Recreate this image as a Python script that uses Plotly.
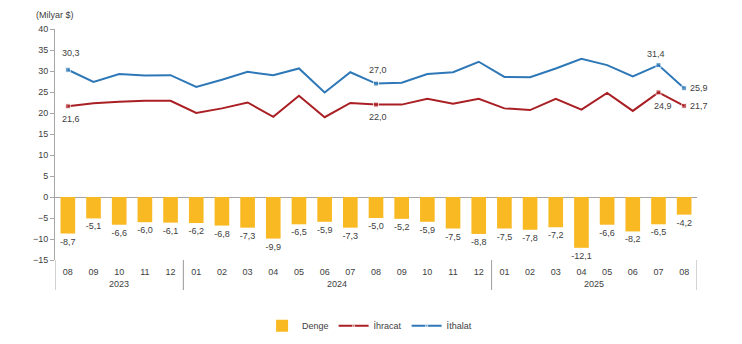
import plotly.graph_objects as go

years = ["2023"] * 5 + ["2024"] * 12 + ["2025"] * 8
months = ["08", "09", "10", "11", "12",
          "01", "02", "03", "04", "05", "06", "07", "08", "09", "10", "11", "12",
          "01", "02", "03", "04", "05", "06", "07", "08"]

denge = [-8.7, -5.1, -6.6, -6.0, -6.1,
         -6.2, -6.8, -7.3, -9.9, -6.5, -5.9, -7.3, -5.0, -5.2, -5.9, -7.5, -8.8,
         -7.5, -7.8, -7.2, -12.1, -6.6, -8.2, -6.5, -4.2]
ihracat = [21.6, 22.3, 22.7, 22.9, 22.9,
           20.0, 21.1, 22.5, 19.1, 24.1, 19.0, 22.4, 22.0, 22.0, 23.4, 22.2, 23.4,
           21.1, 20.7, 23.4, 20.8, 24.8, 20.5, 24.9, 21.7]
ithalat = [30.3, 27.4, 29.3, 28.9, 29.0,
           26.2, 27.9, 29.8, 29.0, 30.6, 24.9, 29.7, 27.0, 27.2, 29.3, 29.7, 32.2,
           28.6, 28.5, 30.6, 32.9, 31.4, 28.7, 31.4, 25.9]

# which points carry a marker + label, and label offsets (px)
labelled = [0, 12, 23, 24]
exp_shift = {0: (3, -13), 12: (2, -12), 23: (5, -14), 24: (15, 0)}
imp_shift = {0: (3, 17), 12: (2, 14), 23: (-2, 11), 24: (15, 0)}

def fmt(v):
    return f"{v:.1f}".replace(".", ",")

n = len(months)
xs = list(range(n))

BAR = "#F9B922"
RED = "#A91F24"
BLUE = "#2E78B7"
TXT = "#404040"
GRID = "#A6A6A6"
FONT = "Liberation Sans, Arial, sans-serif"

fig = go.Figure()
fig.add_trace(go.Bar(
    x=xs, y=denge, name="Denge", marker=dict(color=BAR, line_width=0),
    text=[fmt(v) for v in denge], textposition="outside", constraintext="none",
    textangle=0, textfont=dict(size=9, color=TXT), cliponaxis=False,
))
for name, vals, col in (("İhracat", ihracat, RED), ("İthalat", ithalat, BLUE)):
    fig.add_trace(go.Scatter(
        x=xs, y=vals, name=name, mode="lines+markers",
        line=dict(color=col, width=2),
        marker=dict(symbol="square", color=col,
                    size=[5 if i in labelled else 0 for i in range(n)]),
        cliponaxis=False,
    ))

# year groups: labels and dividers
groups = []
for i, yv in enumerate(years):
    if not groups or groups[-1][0] != yv:
        groups.append([yv, i, i])
    else:
        groups[-1][2] = i

annotations = [dict(text="(Milyar $)", xref="paper", yref="paper", x=0.0, y=1.03,
                    xanchor="center", yanchor="bottom", showarrow=False,
                    font=dict(size=9, color=TXT))]
for vals, shifts in ((ihracat, exp_shift), (ithalat, imp_shift)):
    for i in labelled:
        dx, dy = shifts[i]
        annotations.append(dict(text=fmt(vals[i]), x=xs[i], y=vals[i], xref="x", yref="y",
                                xshift=dx, yshift=dy, showarrow=False,
                                xanchor="center", yanchor="middle",
                                font=dict(size=9, color=TXT)))
shapes = []
for yv, a, b in groups:
    annotations.append(dict(text=yv, xref="x", yref="paper", x=(a + b) / 2, y=-0.105,
                            xanchor="center", yanchor="middle", showarrow=False,
                            font=dict(size=9, color=TXT)))
    for edge in (a - 0.5, b + 0.5):
        shapes.append(dict(type="line", xref="x", yref="paper", x0=edge, x1=edge,
                           y0=0, y1=-0.13, line=dict(color=GRID, width=1)))

fig.update_layout(
    width=742, height=344,
    margin=dict(l=55, r=45, t=29, b=84, autoexpand=False),
    paper_bgcolor="white", plot_bgcolor="white",
    font=dict(family=FONT, size=9, color=TXT),
    bargap=0.43,
    showlegend=True,
    legend=dict(orientation="h", x=0.49, xanchor="center", y=-0.285, yanchor="middle",
                font=dict(size=9, color=TXT), itemwidth=30, tracegroupgap=0),
    annotations=annotations,
    shapes=shapes,
)
fig.update_yaxes(range=[-15, 40], dtick=5, showgrid=False, zeroline=True,
                 zerolinecolor=GRID, zerolinewidth=1,
                 showline=True, linecolor=GRID, linewidth=1,
                 ticks="outside", ticklen=4, tickcolor=GRID, automargin=False,
                 tickfont=dict(size=9, color=TXT))
fig.update_xaxes(range=[-0.5, n - 0.5], tickmode="array", tickvals=xs, ticktext=months,
                 showgrid=False, showline=False, zeroline=False, ticks="",
                 automargin=False, ticklabelstandoff=5, tickfont=dict(size=9, color=TXT))

fig.write_html("out.html")
